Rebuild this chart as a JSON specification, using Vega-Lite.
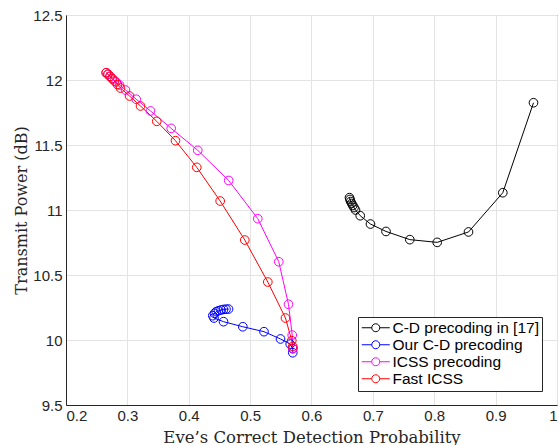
{
  "$schema": "https://vega.github.io/schema/vega-lite/v6.json",
  "autosize": {"type": "none"},
  "padding": {"left": 66, "top": 15, "right": 2, "bottom": 40},
  "width": 491,
  "height": 390,
  "background": "white",
  "config": {
    "view": {"stroke": "#262626", "strokeWidth": 1},
    "axis": {
      "domainColor": "#262626",
      "gridColor": "#e3e3e3",
      "gridWidth": 1,
      "ticks": false,
      "labelFont": "Liberation Sans",
      "labelFontSize": 15,
      "labelColor": "#262626",
      "titleFont": "DejaVu Serif",
      "titleFontWeight": "normal",
      "titleFontSize": 16,
      "titleColor": "#262626"
    }
  },
  "data": {
    "values": [
      {"s": "C-D precoding in [17]", "i": 1, "x": 0.6619, "y": 11.095},
      {"s": "C-D precoding in [17]", "i": 2, "x": 0.6627, "y": 11.081},
      {"s": "C-D precoding in [17]", "i": 3, "x": 0.6639, "y": 11.065},
      {"s": "C-D precoding in [17]", "i": 4, "x": 0.6655, "y": 11.05},
      {"s": "C-D precoding in [17]", "i": 5, "x": 0.6673, "y": 11.035},
      {"s": "C-D precoding in [17]", "i": 6, "x": 0.6693, "y": 11.019},
      {"s": "C-D precoding in [17]", "i": 7, "x": 0.6717, "y": 11.0},
      {"s": "C-D precoding in [17]", "i": 8, "x": 0.6794, "y": 10.956},
      {"s": "C-D precoding in [17]", "i": 9, "x": 0.6961, "y": 10.892},
      {"s": "C-D precoding in [17]", "i": 10, "x": 0.7214, "y": 10.835},
      {"s": "C-D precoding in [17]", "i": 11, "x": 0.7602, "y": 10.772},
      {"s": "C-D precoding in [17]", "i": 12, "x": 0.8048, "y": 10.751},
      {"s": "C-D precoding in [17]", "i": 13, "x": 0.8558, "y": 10.831},
      {"s": "C-D precoding in [17]", "i": 14, "x": 0.9117, "y": 11.133},
      {"s": "C-D precoding in [17]", "i": 15, "x": 0.9617, "y": 11.825},
      {"s": "Our C-D precoding", "i": 1, "x": 0.4648, "y": 10.238},
      {"s": "Our C-D precoding", "i": 2, "x": 0.4607, "y": 10.237},
      {"s": "Our C-D precoding", "i": 3, "x": 0.4566, "y": 10.235},
      {"s": "Our C-D precoding", "i": 4, "x": 0.4526, "y": 10.231},
      {"s": "Our C-D precoding", "i": 5, "x": 0.4485, "y": 10.225},
      {"s": "Our C-D precoding", "i": 6, "x": 0.4447, "y": 10.218},
      {"s": "Our C-D precoding", "i": 7, "x": 0.442, "y": 10.205},
      {"s": "Our C-D precoding", "i": 8, "x": 0.4392, "y": 10.187},
      {"s": "Our C-D precoding", "i": 9, "x": 0.4411, "y": 10.169},
      {"s": "Our C-D precoding", "i": 10, "x": 0.4566, "y": 10.141},
      {"s": "Our C-D precoding", "i": 11, "x": 0.4881, "y": 10.102},
      {"s": "Our C-D precoding", "i": 12, "x": 0.5226, "y": 10.064},
      {"s": "Our C-D precoding", "i": 13, "x": 0.5495, "y": 10.008},
      {"s": "Our C-D precoding", "i": 14, "x": 0.5653, "y": 9.969},
      {"s": "Our C-D precoding", "i": 15, "x": 0.5695, "y": 9.933},
      {"s": "Our C-D precoding", "i": 16, "x": 0.5695, "y": 9.902},
      {"s": "ICSS precoding", "i": 1, "x": 0.2655, "y": 12.056},
      {"s": "ICSS precoding", "i": 2, "x": 0.2684, "y": 12.044},
      {"s": "ICSS precoding", "i": 3, "x": 0.2717, "y": 12.028},
      {"s": "ICSS precoding", "i": 4, "x": 0.276, "y": 12.008},
      {"s": "ICSS precoding", "i": 5, "x": 0.2817, "y": 11.985},
      {"s": "ICSS precoding", "i": 6, "x": 0.2872, "y": 11.962},
      {"s": "ICSS precoding", "i": 7, "x": 0.2969, "y": 11.923},
      {"s": "ICSS precoding", "i": 8, "x": 0.3144, "y": 11.852},
      {"s": "ICSS precoding", "i": 9, "x": 0.3377, "y": 11.762},
      {"s": "ICSS precoding", "i": 10, "x": 0.3714, "y": 11.628},
      {"s": "ICSS precoding", "i": 11, "x": 0.4147, "y": 11.459},
      {"s": "ICSS precoding", "i": 12, "x": 0.4651, "y": 11.227},
      {"s": "ICSS precoding", "i": 13, "x": 0.5125, "y": 10.933},
      {"s": "ICSS precoding", "i": 14, "x": 0.5467, "y": 10.602},
      {"s": "ICSS precoding", "i": 15, "x": 0.5625, "y": 10.275},
      {"s": "ICSS precoding", "i": 16, "x": 0.5686, "y": 10.038},
      {"s": "ICSS precoding", "i": 17, "x": 0.5695, "y": 9.936},
      {"s": "Fast ICSS", "i": 1, "x": 0.2655, "y": 12.056},
      {"s": "Fast ICSS", "i": 2, "x": 0.2684, "y": 12.044},
      {"s": "Fast ICSS", "i": 3, "x": 0.2717, "y": 12.028},
      {"s": "Fast ICSS", "i": 4, "x": 0.275, "y": 12.012},
      {"s": "Fast ICSS", "i": 5, "x": 0.279, "y": 11.992},
      {"s": "Fast ICSS", "i": 6, "x": 0.2839, "y": 11.965},
      {"s": "Fast ICSS", "i": 7, "x": 0.2888, "y": 11.938},
      {"s": "Fast ICSS", "i": 8, "x": 0.3035, "y": 11.877},
      {"s": "Fast ICSS", "i": 9, "x": 0.3214, "y": 11.8},
      {"s": "Fast ICSS", "i": 10, "x": 0.3479, "y": 11.682},
      {"s": "Fast ICSS", "i": 11, "x": 0.3784, "y": 11.533},
      {"s": "Fast ICSS", "i": 12, "x": 0.4131, "y": 11.328},
      {"s": "Fast ICSS", "i": 13, "x": 0.4512, "y": 11.069},
      {"s": "Fast ICSS", "i": 14, "x": 0.4913, "y": 10.769},
      {"s": "Fast ICSS", "i": 15, "x": 0.5288, "y": 10.446},
      {"s": "Fast ICSS", "i": 16, "x": 0.5576, "y": 10.169},
      {"s": "Fast ICSS", "i": 17, "x": 0.5679, "y": 9.995},
      {"s": "Fast ICSS", "i": 18, "x": 0.5695, "y": 9.95}
    ]
  },
  "encoding": {
    "x": {
      "field": "x", "type": "quantitative",
      "scale": {"domain": [0.2, 1], "nice": false, "zero": false},
      "axis": {"values": [0.2, 0.3, 0.4, 0.5, 0.6, 0.7, 0.8, 0.9, 1], "format": "~g", "title": "Eve’s Correct Detection Probability", "titlePadding": 6, "titleFontSize": 16.5, "labelPadding": 3}
    },
    "y": {
      "field": "y", "type": "quantitative",
      "scale": {"domain": [9.5, 12.5], "nice": false, "zero": false},
      "axis": {"values": [9.5, 10, 10.5, 11, 11.5, 12, 12.5], "format": "~g", "title": "Transmit Power (dB)", "titlePadding": 3, "labelPadding": 4}
    },
    "color": {
      "field": "s", "type": "nominal",
      "scale": {"domain": ["C-D precoding in [17]", "Our C-D precoding", "ICSS precoding", "Fast ICSS"], "range": ["#000000", "#0000ff", "#ff00ff", "#ff0000"]},
      "legend": {
        "title": null,
        "orient": "none",
        "legendX": 292,
        "legendY": 302,
        "direction": "vertical",
        "strokeColor": "#262626",
        "fillColor": "white",
        "padding": 3,
        "labelFont": "Liberation Sans",
        "labelFontSize": 15.5,
        "labelColor": "black",
        "symbolType": "M-2,0H-0.57M0.57,0A0.57,0.57 0 1,0 -0.57,0A0.57,0.57 0 1,0 0.57,0M0.57,0H2",
        "symbolSize": 196,
        "symbolOffset": 7,
        "symbolStrokeWidth": 1,
        "symbolFillColor": "transparent",
        "rowPadding": -1,
        "labelOffset": 9
      }
    },
    "order": {"field": "i", "type": "quantitative"}
  },
  "layer": [
    {"mark": {"type": "line", "strokeWidth": 1}},
    {"mark": {"type": "point", "filled": false, "size": 75, "strokeWidth": 1, "opacity": 1}}
  ]
}
